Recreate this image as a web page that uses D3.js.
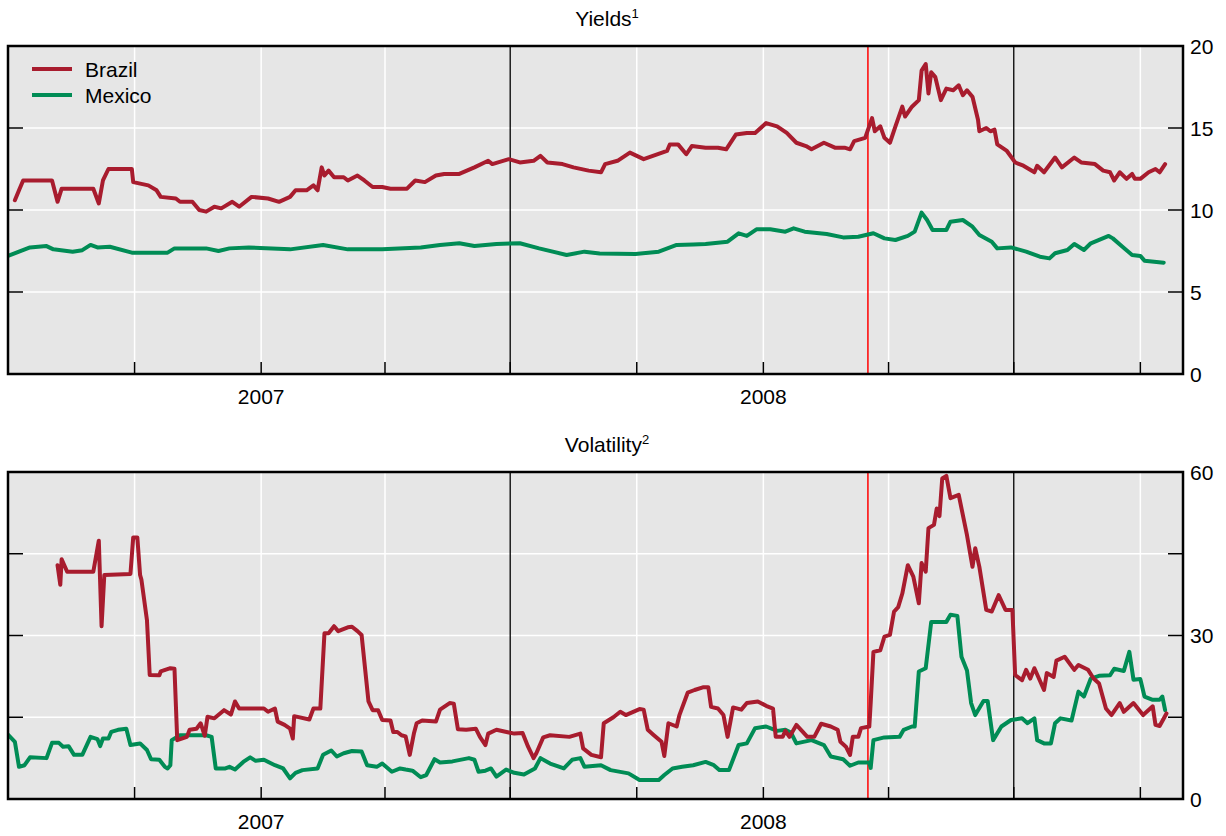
<!DOCTYPE html>
<html>
<head>
<meta charset="utf-8">
<script src="https://cdn.jsdelivr.net/npm/d3@7"></script>
<style>
  body { margin: 0; background: #ffffff; }
  svg { display: block; font-family: "Liberation Sans", Arial, Helvetica, sans-serif; }
</style>
</head>
<body>
<svg id="chart" width="1226" height="836"></svg>
<script>
// ---- Data -------------------------------------------------------------
const seriesNames = ["Brazil", "Mexico"];

// Government bond yields, per cent
const brazilYield = [
  ["2006-07-06",10.6],["2006-07-09",11.2],["2006-07-12",11.8],["2006-08-02",11.8],["2006-08-06",10.5],
  ["2006-08-09",11.3],["2006-09-01",11.3],["2006-09-05",10.4],["2006-09-08",11.8],["2006-09-12",12.5],
  ["2006-09-29",12.5],["2006-09-30",11.7],["2006-10-11",11.5],["2006-10-17",11.2],["2006-10-20",10.8],
  ["2006-10-31",10.7],["2006-11-03",10.5],["2006-11-12",10.5],["2006-11-17",10.0],["2006-11-22",9.9],
  ["2006-11-28",10.2],["2006-12-03",10.1],["2006-12-11",10.5],["2006-12-16",10.2],["2006-12-25",10.8],
  ["2007-01-06",10.7],["2007-01-14",10.5],["2007-01-22",10.8],["2007-01-26",11.2],["2007-02-03",11.2],
  ["2007-02-08",11.5],["2007-02-11",11.2],["2007-02-14",12.6],["2007-02-16",12.1],["2007-02-19",12.4],
  ["2007-02-23",12.0],["2007-03-02",12.0],["2007-03-05",11.8],["2007-03-12",12.1],["2007-03-17",11.8],
  ["2007-03-23",11.4],["2007-03-30",11.4],["2007-04-05",11.3],["2007-04-17",11.3],["2007-04-23",11.8],
  ["2007-04-30",11.7],["2007-05-08",12.1],["2007-05-14",12.2],["2007-05-25",12.2],["2007-06-05",12.6],
  ["2007-06-15",13.0],["2007-06-18",12.8],["2007-06-30",13.1],["2007-07-08",12.9],["2007-07-18",13.0],
  ["2007-07-23",13.3],["2007-07-28",12.9],["2007-08-08",12.8],["2007-08-16",12.6],["2007-08-27",12.4],
  ["2007-09-05",12.3],["2007-09-08",12.8],["2007-09-17",13.0],["2007-09-26",13.5],["2007-10-06",13.1],
  ["2007-10-23",13.6],["2007-10-25",14.0],["2007-10-31",14.0],["2007-11-06",13.4],["2007-11-10",13.9],
  ["2007-11-20",13.8],["2007-11-29",13.8],["2007-12-05",13.7],["2007-12-12",14.6],["2007-12-20",14.7],
  ["2007-12-26",14.7],["2008-01-03",15.3],["2008-01-11",15.1],["2008-01-18",14.7],["2008-01-25",14.1],
  ["2008-02-01",13.9],["2008-02-05",13.7],["2008-02-14",14.1],["2008-02-22",13.8],["2008-02-29",13.8],
  ["2008-03-04",13.7],["2008-03-07",14.2],["2008-03-15",14.4],["2008-03-20",15.6],["2008-03-22",14.8],
  ["2008-03-26",15.1],["2008-03-29",14.4],["2008-04-02",14.1],["2008-04-06",15.1],["2008-04-11",16.3],
  ["2008-04-13",15.7],["2008-04-18",16.3],["2008-04-23",16.7],["2008-04-25",18.5],["2008-04-28",18.9],
  ["2008-04-30",17.1],["2008-05-02",18.4],["2008-05-05",18.1],["2008-05-09",16.7],["2008-05-13",17.4],
  ["2008-05-18",17.3],["2008-05-22",17.6],["2008-05-25",17.0],["2008-05-28",17.3],["2008-06-01",16.9],
  ["2008-06-05",15.5],["2008-06-06",14.8],["2008-06-11",15.0],["2008-06-14",14.8],["2008-06-17",14.9],
  ["2008-06-19",14.0],["2008-06-26",13.6],["2008-07-02",12.9],["2008-07-08",12.7],["2008-07-16",12.3],
  ["2008-07-18",12.7],["2008-07-23",12.3],["2008-07-31",13.2],["2008-08-05",12.6],["2008-08-14",13.2],
  ["2008-08-19",12.9],["2008-08-29",12.8],["2008-09-04",12.4],["2008-09-09",12.3],["2008-09-12",11.8],
  ["2008-09-16",12.3],["2008-09-21",11.9],["2008-09-25",12.2],["2008-09-27",11.9],["2008-10-01",11.9],
  ["2008-10-07",12.3],["2008-10-12",12.5],["2008-10-15",12.3],["2008-10-19",12.8]
];

const mexicoYield = [
  ["2006-07-01",7.2],["2006-07-09",7.46],["2006-07-17",7.72],["2006-07-29",7.8],["2006-08-03",7.6],
  ["2006-08-17",7.46],["2006-08-24",7.55],["2006-08-30",7.87],["2006-09-04",7.72],["2006-09-13",7.76],
  ["2006-09-29",7.4],["2006-10-25",7.4],["2006-10-30",7.66],["2006-11-22",7.66],["2006-12-01",7.5],
  ["2006-12-09",7.66],["2006-12-23",7.72],["2007-01-22",7.6],["2007-02-15",7.87],["2007-03-05",7.6],
  ["2007-03-30",7.6],["2007-04-27",7.72],["2007-05-11",7.87],["2007-05-25",7.97],["2007-06-05",7.8],
  ["2007-06-21",7.93],["2007-07-08",7.97],["2007-07-22",7.66],["2007-08-11",7.26],["2007-08-24",7.46],
  ["2007-09-04",7.35],["2007-09-30",7.32],["2007-10-17",7.46],["2007-10-30",7.87],["2007-11-11",7.9],
  ["2007-11-20",7.93],["2007-12-06",8.07],["2007-12-14",8.58],["2007-12-20",8.42],["2007-12-27",8.82],
  ["2008-01-06",8.82],["2008-01-17",8.68],["2008-01-23",8.88],["2008-01-31",8.68],["2008-02-16",8.54],
  ["2008-02-28",8.33],["2008-03-10",8.37],["2008-03-21",8.58],["2008-03-29",8.27],["2008-04-06",8.17],
  ["2008-04-15",8.42],["2008-04-20",8.68],["2008-04-25",9.84],["2008-04-29",9.39],["2008-05-03",8.78],
  ["2008-05-13",8.78],["2008-05-16",9.29],["2008-05-25",9.39],["2008-06-01",8.98],["2008-06-06",8.48],
  ["2008-06-15",8.07],["2008-06-19",7.66],["2008-06-29",7.72],["2008-07-10",7.46],["2008-07-20",7.15],
  ["2008-07-27",7.05],["2008-07-31",7.36],["2008-08-09",7.56],["2008-08-14",7.93],["2008-08-21",7.56],
  ["2008-08-26",7.97],["2008-09-08",8.42],["2008-09-11",8.27],["2008-09-18",7.76],["2008-09-25",7.26],
  ["2008-10-01",7.2],["2008-10-04",6.91],["2008-10-18",6.79]
];

// Volatility, per cent
const brazilVol = [
  ["2006-08-06",42.9],["2006-08-08",39.3],["2006-08-09",44.0],["2006-08-13",41.7],["2006-09-01",41.7],
  ["2006-09-05",47.4],["2006-09-07",31.7],["2006-09-09",41.1],["2006-09-28",41.3],["2006-09-30",48.0],
  ["2006-10-03",48.0],["2006-10-05",41.1],["2006-10-06",40.2],["2006-10-10",32.8],["2006-10-12",22.75],
  ["2006-10-19",22.7],["2006-10-20",23.4],["2006-10-27",24.0],["2006-10-30",23.9],["2006-11-01",10.8],
  ["2006-11-08",11.4],["2006-11-10",12.7],["2006-11-15",12.9],["2006-11-18",13.9],["2006-11-21",11.6],
  ["2006-11-23",15.1],["2006-11-28",14.8],["2006-12-05",16.3],["2006-12-10",15.5],["2006-12-13",17.9],
  ["2006-12-16",16.6],["2007-01-03",16.6],["2007-01-06",16.0],["2007-01-11",16.6],["2007-01-13",14.2],
  ["2007-01-18",13.6],["2007-01-22",12.9],["2007-01-24",11.1],["2007-01-25",15.2],["2007-02-05",14.6],
  ["2007-02-08",16.6],["2007-02-13",16.6],["2007-02-16",30.4],["2007-02-19",30.4],["2007-02-23",31.7],
  ["2007-02-26",30.8],["2007-03-05",31.5],["2007-03-08",31.6],["2007-03-12",30.8],["2007-03-15",30.1],
  ["2007-03-20",17.9],["2007-03-23",16.3],["2007-03-27",16.3],["2007-03-30",14.5],["2007-04-05",14.4],
  ["2007-04-07",12.3],["2007-04-10",12.3],["2007-04-13",11.7],["2007-04-16",11.5],["2007-04-19",8.1],
  ["2007-04-22",12.0],["2007-04-24",13.9],["2007-04-28",14.4],["2007-05-08",14.2],["2007-05-11",16.4],
  ["2007-05-18",17.6],["2007-05-21",17.5],["2007-05-24",12.8],["2007-05-30",12.7],["2007-06-06",12.9],
  ["2007-06-09",11.4],["2007-06-13",9.9],["2007-06-15",12.0],["2007-06-21",12.7],["2007-06-30",12.2],
  ["2007-07-04",12.0],["2007-07-10",12.1],["2007-07-14",9.6],["2007-07-18",7.5],["2007-07-20",8.4],
  ["2007-07-25",11.3],["2007-07-30",11.7],["2007-08-13",11.4],["2007-08-21",12.0],["2007-08-23",9.3],
  ["2007-08-29",8.1],["2007-09-05",7.65],["2007-09-07",13.9],["2007-09-14",15.0],["2007-09-19",16.0],
  ["2007-09-23",15.4],["2007-10-03",16.5],["2007-10-06",16.4],["2007-10-09",12.7],["2007-10-13",11.8],
  ["2007-10-19",10.5],["2007-10-21",7.9],["2007-10-24",13.9],["2007-10-30",13.3],["2007-11-01",15.4],
  ["2007-11-07",19.5],["2007-11-12",20.0],["2007-11-18",20.5],["2007-11-22",20.5],["2007-11-24",16.9],
  ["2007-11-29",16.6],["2007-12-03",15.4],["2007-12-06",11.4],["2007-12-10",16.8],["2007-12-16",16.4],
  ["2007-12-20",17.6],["2007-12-28",17.9],["2008-01-03",17.1],["2008-01-08",16.6],["2008-01-10",11.4],
  ["2008-01-15",11.4],["2008-01-17",12.5],["2008-01-20",11.4],["2008-01-25",13.6],["2008-02-02",11.4],
  ["2008-02-07",11.4],["2008-02-12",13.8],["2008-02-19",13.3],["2008-02-24",12.7],["2008-02-26",10.5],
  ["2008-03-01",9.6],["2008-03-04",8.1],["2008-03-06",11.4],["2008-03-10",11.4],["2008-03-12",13.0],
  ["2008-03-18",13.3],["2008-03-19",17.6],["2008-03-21",27.0],["2008-03-26",27.3],["2008-03-29",29.8],
  ["2008-04-02",30.1],["2008-04-05",34.4],["2008-04-08",35.2],["2008-04-11",37.7],["2008-04-15",42.9],
  ["2008-04-19",40.8],["2008-04-23",35.9],["2008-04-25",43.3],["2008-04-28",41.7],["2008-04-30",49.7],
  ["2008-05-04",50.3],["2008-05-06",53.3],["2008-05-08",51.9],["2008-05-10",58.8],["2008-05-13",59.3],
  ["2008-05-16",55.2],["2008-05-22",55.8],["2008-05-28",48.4],["2008-06-01",42.6],["2008-06-03",46.0],
  ["2008-06-06",42.6],["2008-06-11",34.7],["2008-06-15",34.4],["2008-06-20",37.4],["2008-06-25",34.7],
  ["2008-06-30",34.7],["2008-07-02",22.75],["2008-07-07",21.8],["2008-07-10",23.7],["2008-07-13",22.1],
  ["2008-07-16",24.0],["2008-07-23",20.0],["2008-07-25",23.1],["2008-07-30",22.4],["2008-08-01",25.4],
  ["2008-08-07",26.1],["2008-08-14",23.7],["2008-08-17",24.6],["2008-08-24",23.7],["2008-08-28",22.1],
  ["2008-09-01",21.2],["2008-09-06",16.6],["2008-09-10",15.4],["2008-09-16",17.6],["2008-09-19",16.0],
  ["2008-09-26",17.6],["2008-10-03",15.4],["2008-10-10",17.0],["2008-10-12",13.6],["2008-10-15",13.4],
  ["2008-10-20",15.7]
];

const mexicoVol = [
  ["2006-07-01",11.8],["2006-07-06",10.5],["2006-07-09",5.9],["2006-07-13",6.2],["2006-07-17",7.65],
  ["2006-07-29",7.5],["2006-08-02",10.3],["2006-08-07",10.3],["2006-08-10",9.6],["2006-08-14",9.7],
  ["2006-08-18",8.1],["2006-08-24",8.1],["2006-08-30",11.4],["2006-09-04",11.0],["2006-09-06",9.7],
  ["2006-09-08",11.1],["2006-09-12",11.1],["2006-09-14",12.3],["2006-09-19",12.7],["2006-09-25",12.9],
  ["2006-09-28",9.9],["2006-10-05",10.2],["2006-10-10",9.0],["2006-10-13",7.3],["2006-10-19",7.2],
  ["2006-10-23",5.9],["2006-10-25",5.6],["2006-10-27",6.2],["2006-10-28",10.8],["2006-11-03",11.7],
  ["2006-11-22",11.7],["2006-11-26",11.4],["2006-11-29",5.6],["2006-12-06",5.6],["2006-12-09",5.9],
  ["2006-12-13",5.4],["2006-12-19",6.8],["2006-12-24",7.65],["2006-12-28",7.0],["2007-01-03",7.2],
  ["2007-01-11",6.2],["2007-01-17",5.6],["2007-01-22",3.8],["2007-01-26",4.8],["2007-01-31",5.3],
  ["2007-02-11",5.6],["2007-02-15",8.1],["2007-02-21",8.9],["2007-02-25",7.8],["2007-03-02",8.4],
  ["2007-03-08",8.8],["2007-03-15",8.7],["2007-03-19",6.2],["2007-03-26",5.9],["2007-03-30",6.5],
  ["2007-04-06",5.0],["2007-04-12",5.6],["2007-04-16",5.4],["2007-04-21",5.2],["2007-04-27",4.0],
  ["2007-05-01",4.4],["2007-05-07",7.3],["2007-05-11",6.7],["2007-05-20",6.9],["2007-06-01",7.5],
  ["2007-06-05",7.2],["2007-06-08",5.0],["2007-06-13",5.2],["2007-06-17",5.6],["2007-06-21",4.1],
  ["2007-06-28",5.4],["2007-07-04",4.8],["2007-07-11",4.5],["2007-07-19",5.6],["2007-07-23",7.5],
  ["2007-07-30",6.5],["2007-08-09",5.6],["2007-08-15",7.2],["2007-08-21",7.5],["2007-08-24",5.9],
  ["2007-09-05",6.2],["2007-09-12",5.3],["2007-09-25",4.7],["2007-10-03",3.5],["2007-10-17",3.5],
  ["2007-10-21",4.4],["2007-10-27",5.6],["2007-11-03",5.9],["2007-11-11",6.2],["2007-11-20",6.8],
  ["2007-11-26",6.2],["2007-11-30",5.3],["2007-12-07",5.3],["2007-12-14",9.9],["2007-12-20",10.2],
  ["2007-12-26",13.0],["2008-01-03",13.3],["2008-01-11",12.5],["2008-01-17",12.7],["2008-01-21",12.2],
  ["2008-01-25",10.2],["2008-02-05",10.8],["2008-02-14",9.9],["2008-02-19",7.8],["2008-02-28",7.3],
  ["2008-03-04",6.1],["2008-03-10",6.7],["2008-03-18",6.7],["2008-03-19",5.7],["2008-03-21",10.8],
  ["2008-03-29",11.3],["2008-04-09",11.4],["2008-04-12",12.7],["2008-04-18",13.3],["2008-04-20",13.3],
  ["2008-04-23",23.4],["2008-04-28",24.0],["2008-05-02",32.5],["2008-05-13",32.5],["2008-05-16",33.8],
  ["2008-05-21",33.6],["2008-05-24",26.1],["2008-05-28",23.6],["2008-05-31",17.6],["2008-06-03",15.4],
  ["2008-06-09",18.0],["2008-06-12",18.0],["2008-06-16",10.8],["2008-06-22",13.3],["2008-06-29",14.5],
  ["2008-07-07",14.8],["2008-07-11",13.9],["2008-07-16",14.8],["2008-07-18",10.8],["2008-07-23",10.2],
  ["2008-07-28",10.2],["2008-07-31",13.9],["2008-08-04",14.8],["2008-08-12",14.4],["2008-08-17",19.7],
  ["2008-08-21",18.8],["2008-08-26",22.1],["2008-09-01",22.6],["2008-09-09",22.7],["2008-09-12",23.9],
  ["2008-09-19",23.5],["2008-09-23",27.0],["2008-09-26",21.9],["2008-10-01",22.0],["2008-10-04",18.8],
  ["2008-10-10",18.2],["2008-10-15",18.2],["2008-10-17",18.8],["2008-10-19",16.3]
];

// Axis ticks
const yieldTicks = [0, 5, 10, 15, 20];
const yieldTickLabels = ["0", "5", "10", "15", "20"];
const volTicks = [0, 15, 30, 45, 60];
const volTickLabels = ["0", "", "30", "", "60"];
const yearLabels = [["2007-01-01", "2007"], ["2008-01-01", "2008"]];
const periodStart = "2006-07-01";
const periodEnd = "2008-11-01";
const midYearMarks = ["2007-07-01", "2008-07-01"];
const eventDate = "2008-03-17";

// ---- Drawing ----------------------------------------------------------
const parse = d3.timeParse("%Y-%m-%d");
const colors = { Brazil: "#a81c2e", Mexico: "#008c55" };
const plotBg = "#e6e6e6";
const lineWidth = 4;
const svg = d3.select("#chart");

const x = d3.scaleTime()
  .domain([parse(periodStart), parse(periodEnd)])
  .range([8, 1183]);

const quarterDates = d3.timeMonth.every(3).range(parse("2006-10-01"), parse(periodEnd));
const midYearSet = new Set(midYearMarks);
const fmt = d3.timeFormat("%Y-%m-%d");

const panels = [
  { id: "yields", title: "Yields", sup: "1", top: 46, bottom: 374,
    domain: [0, 20], ticks: yieldTicks, tickLabels: yieldTickLabels,
    series: { Brazil: brazilYield, Mexico: mexicoYield }, legend: true },
  { id: "vol", title: "Volatility", sup: "2", top: 472, bottom: 799,
    domain: [0, 60], ticks: volTicks, tickLabels: volTickLabels,
    series: { Brazil: brazilVol, Mexico: mexicoVol }, legend: false }
];

panels.forEach(p => {
  const left = x.range()[0], right = x.range()[1];
  const y = d3.scaleLinear().domain(p.domain).range([p.bottom, p.top]);
  const g = svg.append("g").attr("class", "panel-" + p.id);

  g.append("defs").append("clipPath").attr("id", "clip-" + p.id)
    .append("rect").attr("x", left).attr("y", p.top)
    .attr("width", right - left).attr("height", p.bottom - p.top);

  // plot background
  g.append("rect").attr("x", left).attr("y", p.top)
    .attr("width", right - left).attr("height", p.bottom - p.top)
    .attr("fill", plotBg);

  // horizontal gridlines
  g.selectAll(".hgrid").data(p.ticks.slice(1, -1)).join("line")
    .attr("x1", left).attr("x2", right)
    .attr("y1", d => y(d)).attr("y2", d => y(d))
    .attr("stroke", "#ffffff").attr("stroke-width", 1.5);

  // vertical gridlines at quarters (mid-year marks in black)
  g.selectAll(".vgrid").data(quarterDates).join("line")
    .attr("x1", d => x(d)).attr("x2", d => x(d))
    .attr("y1", p.top).attr("y2", p.bottom)
    .attr("stroke", d => midYearSet.has(fmt(d)) ? "#000000" : "#ffffff")
    .attr("stroke-width", d => midYearSet.has(fmt(d)) ? 1.3 : 1.5);

  // event marker
  g.append("line")
    .attr("x1", x(parse(eventDate))).attr("x2", x(parse(eventDate)))
    .attr("y1", p.top).attr("y2", p.bottom)
    .attr("stroke", "#ff0000").attr("stroke-width", 1.5);

  // series
  const line = d3.line()
    .x(d => x(parse(d[0])))
    .y(d => y(d[1]));
  const plot = g.append("g").attr("clip-path", "url(#clip-" + p.id + ")");
  ["Mexico", "Brazil"].forEach(name => {
    plot.append("path")
      .datum(p.series[name])
      .attr("d", line)
      .attr("fill", "none")
      .attr("stroke", colors[name])
      .attr("stroke-width", lineWidth)
      .attr("stroke-linejoin", "round")
      .attr("stroke-linecap", "round");
  });

  // y ticks, left and right, pointing inward
  const inner = p.ticks.slice(1, -1);
  g.selectAll(".ytl").data(inner).join("line")
    .attr("x1", left).attr("x2", left + 15)
    .attr("y1", d => y(d)).attr("y2", d => y(d))
    .attr("stroke", "#000").attr("stroke-width", 1.5);
  g.selectAll(".ytr").data(inner).join("line")
    .attr("x1", right - 15).attr("x2", right)
    .attr("y1", d => y(d)).attr("y2", d => y(d))
    .attr("stroke", "#000").attr("stroke-width", 1.5);

  // y tick labels on the right
  g.selectAll(".ylab").data(p.ticks).join("text")
    .attr("x", right + 7)
    .attr("y", d => y(d))
    .attr("dy", "0.36em")
    .attr("font-size", 21)
    .attr("fill", "#000")
    .text((d, i) => p.tickLabels[i]);

  // x ticks along the bottom, pointing up
  g.selectAll(".xt").data(quarterDates).join("line")
    .attr("x1", d => x(d)).attr("x2", d => x(d))
    .attr("y1", p.bottom - 12).attr("y2", p.bottom)
    .attr("stroke", "#000").attr("stroke-width", 1.5);

  // year labels
  g.selectAll(".xlab").data(yearLabels).join("text")
    .attr("x", d => x(parse(d[0])))
    .attr("y", p.bottom + 22)
    .attr("dy", "0.36em")
    .attr("text-anchor", "middle")
    .attr("font-size", 21)
    .attr("fill", "#000")
    .text(d => d[1]);

  // frame
  g.append("rect").attr("x", left).attr("y", p.top)
    .attr("width", right - left).attr("height", p.bottom - p.top)
    .attr("fill", "none").attr("stroke", "#000").attr("stroke-width", 2.5);

  // title with footnote marker
  const t = g.append("text")
    .attr("x", 607).attr("y", p.top - 28)
    .attr("dy", "0.36em")
    .attr("text-anchor", "middle")
    .attr("font-size", 21)
    .attr("fill", "#000");
  t.append("tspan").text(p.title);
  t.append("tspan").attr("dy", "-0.55em").attr("font-size", 13).text(p.sup);

  // legend
  if (p.legend) {
    const lg = g.append("g");
    seriesNames.forEach((name, i) => {
      const ly = 69 + i * 26;
      lg.append("line")
        .attr("x1", 32).attr("x2", 72).attr("y1", ly).attr("y2", ly)
        .attr("stroke", colors[name]).attr("stroke-width", lineWidth);
      lg.append("text")
        .attr("x", 85).attr("y", ly).attr("dy", "0.36em")
        .attr("font-size", 21).attr("fill", "#000")
        .text(name);
    });
  }
});
</script>
</body>
</html>
